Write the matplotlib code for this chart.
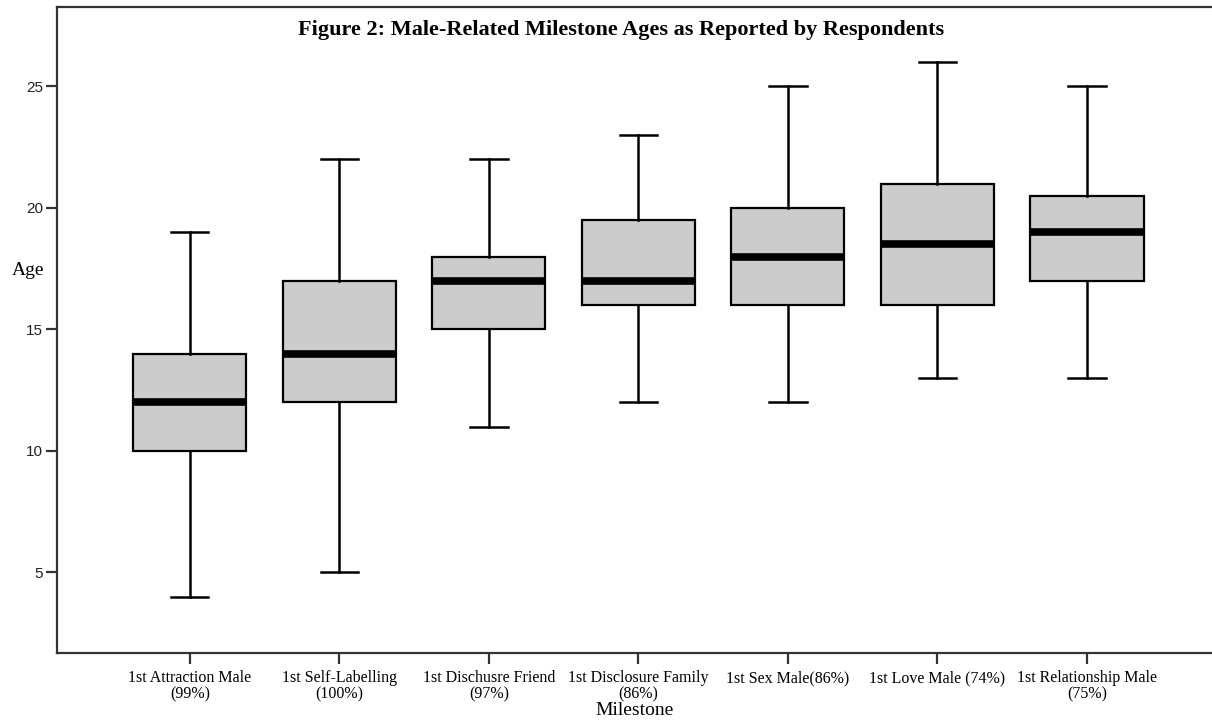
import numpy as np
import matplotlib.pyplot as plt

# milestone ages (years): whisker ends, quartiles and medians
milestones = ['1st Attraction Male\n(99%)', '1st Self-Labelling\n(100%)',
              '1st Dischusre Friend\n(97%)', '1st Disclosure Family\n(86%)',
              '1st Sex Male(86%)', '1st Love Male (74%)',
              '1st Relationship Male\n(75%)']
whis_lo = [4, 5, 11, 12, 12, 13, 13]
q1 = [10, 12, 15, 16, 16, 16, 17]
med = [12, 14, 17, 17, 18, 18.5, 19]
q3 = [14, 17, 18, 19.5, 20, 21, 20.5]
whis_hi = [19, 22, 22, 23, 25, 26, 25]

stats = []
for lab, lo, a, m, b, hi in zip(milestones, whis_lo, q1, med, q3, whis_hi):
    stats.append({'label': lab, 'whislo': lo, 'q1': a, 'med': m,
                  'q3': b, 'whishi': hi, 'fliers': []})

serif = ['Liberation Serif', 'DejaVu Serif']
sans = ['Liberation Sans', 'DejaVu Sans']

fig = plt.figure(figsize=(12.12, 7.21), dpi=100)
# plot area runs past the right edge of the figure
ax = fig.add_axes([0.0468, 0.0939, 0.987, 0.8961])

pos = np.arange(1, len(stats) + 1)
ax.bxp(stats, positions=pos, widths=0.756, capwidths=0.25,
       patch_artist=True, showfliers=False,
       boxprops=dict(facecolor='#cccccc', edgecolor='black', linewidth=1.6),
       medianprops=dict(color='black', linewidth=5.5, solid_capstyle='butt'),
       whiskerprops=dict(color='black', linewidth=1.8),
       capprops=dict(color='black', linewidth=1.8))

ax.set_xlim(0.11, 8.11)
ax.set_ylim(1.67, 28.26)
ax.set_yticks([5, 10, 15, 20, 25])
ax.set_xticks(pos)
ax.set_xticklabels(milestones, fontfamily=serif, fontsize=11.5, linespacing=1.0)
for t in ax.get_yticklabels():
    t.set_fontfamily(sans)
    t.set_fontsize(11)
    t.set_color('#222222')

for s in ['top', 'left', 'bottom']:
    ax.spines[s].set_linewidth(1.6)
    ax.spines[s].set_color('#333333')
ax.spines['right'].set_visible(False)
ax.tick_params(axis='both', direction='out', length=8, width=1.6, color='#333333')
ax.tick_params(axis='x', pad=4)
ax.tick_params(axis='y', pad=2)

ax.set_xlabel('Milestone', fontfamily=serif, fontsize=14, va='center')
ax.xaxis.set_label_coords(0.4827, -0.088)
ax.set_ylabel('Age', fontfamily=serif, fontsize=14, rotation=0, va='center', ha='center')
ax.yaxis.set_label_coords(-0.024, 0.593)

ax.text(0.472, 0.964, 'Figure 2: Male-Related Milestone Ages as Reported by Respondents',
        transform=ax.transAxes, ha='center', va='center',
        fontfamily=serif, fontweight='bold', fontsize=16)

fig.savefig('out.png', dpi=100)
